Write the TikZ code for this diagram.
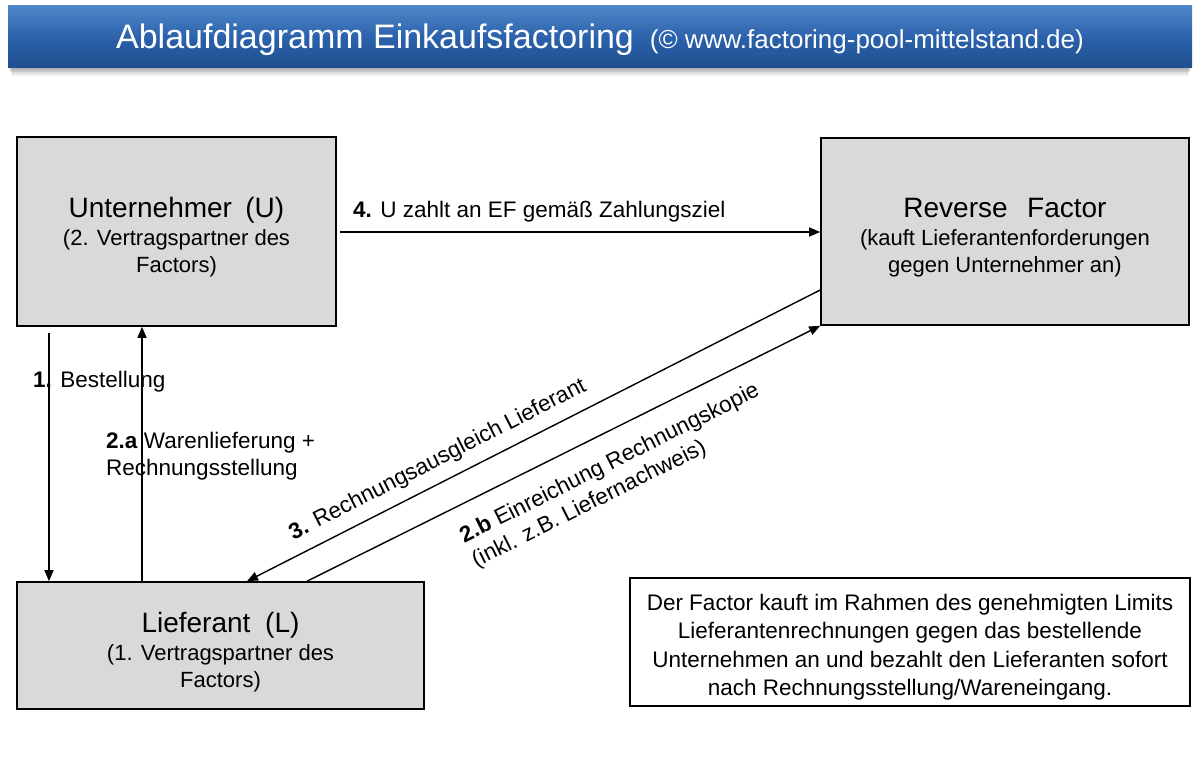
\documentclass[tikz,border=0pt]{standalone}
\usepackage{fontspec}
\setmainfont{Liberation Sans}
\usetikzlibrary{arrows.meta,calc}
\definecolor{boxgray}{HTML}{D9D9D9}
\definecolor{barTop}{HTML}{4F86C8}
\definecolor{barMid}{HTML}{2B62AB}
\definecolor{barBot}{HTML}{1F4E8E}
\tikzset{
  box/.style={draw=black, line width=1.6pt, fill=boxgray, inner sep=0pt},
  btxt/.style={align=center, inner sep=0pt, font=\fontsize{22}{27}\selectfont},
  notebox/.style={draw=black, line width=1.4pt, fill=white, inner sep=0pt},
  ntxt/.style={align=center, inner sep=0pt, font=\fontsize{22.5}{28.5}\selectfont},
  conn/.style={line width=1.4pt, -{Triangle[length=11pt,width=9pt]}},
  lbl/.style={inner sep=0pt, font=\fontsize{22.5}{27}\selectfont},
  titlebar/.style={minimum width=1184pt, minimum height=62pt, inner sep=0pt,
    top color=barTop, bottom color=barBot, middle color=barMid, text=white},
}
\newcommand{\bigt}{\fontsize{28}{32}\selectfont}
\begin{document}
\begin{tikzpicture}[x=1pt,y=-1pt]
\useasboundingbox (0,0) rectangle (1200,762);
% title bar shadow
\foreach \d/\o in {2/0.10,4/0.10,6/0.08,8/0.06}{
  \fill[black, opacity=\o] (8+\d/2,40) rectangle (1192-\d/2,68+\d);
}
\node[titlebar] (title) at (600,37)
  {\raisebox{-3pt}[\height][\depth]{{\fontsize{34}{40}\selectfont Ablaufdiagramm Einkaufsfactoring}\hspace{16pt}{\fontsize{26}{30}\selectfont(© www.factoring-pool-mittelstand.de)}}};

% boxes
\node[box, minimum width=319pt, minimum height=189pt] (U) at (176.5,231.5) {};
\node[box, minimum width=368pt, minimum height=187pt] (RF) at (1005,231.5) {};
\node[box, minimum width=407pt, minimum height=127pt] (L) at (220.5,645.5) {};
\node[notebox, minimum width=560pt, minimum height=128pt] (N) at (910,642) {};

% box texts
\node[btxt] (Ut) at (176.5,237.5)
  {{\bigt Unternehmer\hspace{0.2em} (U)}\\[1pt] (2. Vertragspartner des\\ Factors)};
\node[btxt] (RFt) at (1005,237.5)
  {{\bigt Reverse\hspace{0.42em} Factor}\\[1pt] (kauft Lieferantenforderungen\\ gegen Unternehmer an)};
\node[btxt] (Lt) at (220.5,652)
  {{\bigt Lieferant\hspace{0.25em} (L)}\\[1.5pt] (1. Vertragspartner des\\ Factors)};
\node[ntxt] (Nt) at (910,647)
  {Der Factor kauft im Rahmen des genehmigten Limits\\
   Lieferantenrechnungen gegen das bestellende\\
   Unternehmen an und bezahlt den Lieferanten sofort\\
   nach Rechnungsstellung/Wareneingang.};

% helper coordinates
\coordinate (o1) at (49,333);
\coordinate (x2a) at (142,0);
\coordinate (o4) at (340,232);
\coordinate (y3) at (0,290);
\coordinate (x3) at (247,0);
\coordinate (x2b) at (307,0);

% connectors
\draw[conn] (o1) -- (o1 |- L.north);
\draw[conn] (L.north -| x2a) -- (U.south -| x2a);
\draw[conn] (o4) -- (o4 -| RF.west);
\draw[conn] (RF.west |- y3) -- (L.north -| x3);
\draw[conn] (L.north -| x2b) -- (RF.south west);

% labels
\node[lbl, anchor=west] (l1) at (33,382) {\textbf{1.} Bestellung};
\node[lbl, anchor=west, align=left] (l2a) at (106,456) {\textbf{2.a} Warenlieferung +\\Rechnungsstellung};
\node[lbl, anchor=west] (l4) at (353,212) {\textbf{4.} U zahlt an EF gemäß Zahlungsziel};
\node[lbl, rotate=27] (l3) at (438,460) {\textbf{3.} Rechnungsausgleich Lieferant};
\node[lbl, rotate=26.6, align=left] (l2b) at (616,476) {\textbf{2.b} Einreichung Rechnungskopie\\(inkl. z.B. Liefernachweis)};
\end{tikzpicture}
\end{document}
